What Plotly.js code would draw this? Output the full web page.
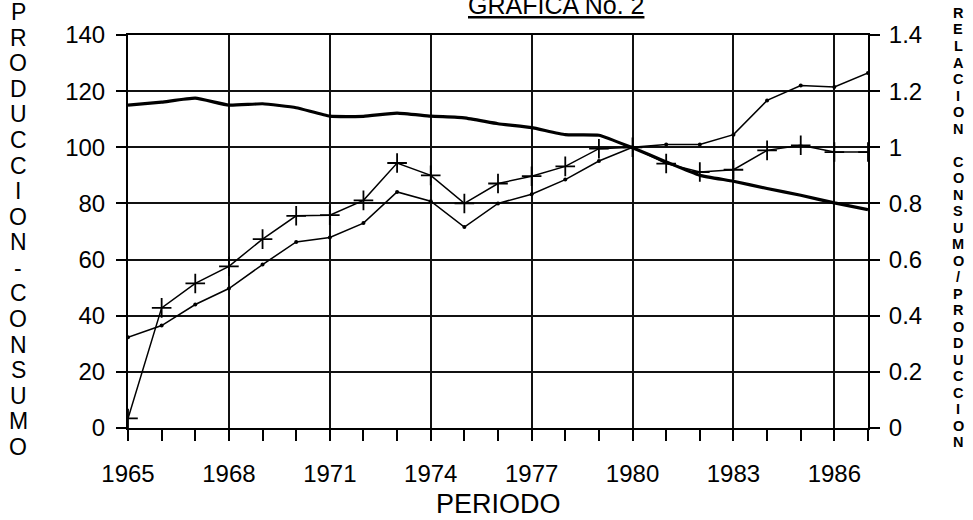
<!DOCTYPE html>
<html>
<head>
<meta charset="utf-8">
<script src="https://cdn.plot.ly/plotly-3.0.1.min.js"></script>
<style>html,body{margin:0;padding:0;background:#fff;}#chart{width:973px;height:520px;}</style>
</head>
<body>
<div id="chart"></div>
<script>
const years = [1965,1966,1967,1968,1969,1970,1971,1972,1973,1974,1975,1976,1977,1978,1979,1980,1981,1982,1983,1984,1985,1986,1987];
const produccion = [32.3,36.5,44,49.7,58.2,66.3,67.9,73,84.1,80.8,71.6,80,83.3,88.5,95.1,100,101,101,104.5,116.7,122,121.5,126.5];
const consumo = [3.4,42.8,51.5,57.6,67.3,75.6,75.8,81.1,94.4,90,80,87.1,89.7,93.2,99.5,100,94.2,91.2,92,98.9,100.7,98.3,98.3];
const relacion = [1.15,1.161,1.175,1.15,1.155,1.141,1.111,1.11,1.122,1.111,1.105,1.084,1.07,1.045,1.043,0.998,0.948,0.90,0.879,0.853,0.829,0.802,0.778];
const xTickVals = [1965,1968,1971,1974,1977,1980,1983,1986];
const xTickText = ['1965','1968','1971','1974','1977','1980','1983','1986'];
const leftTitle = 'PRODUCCION-CONSUMO';
const rightTitle = 'RELACION CONSUMO/PRODUCCION';
const xTitle = 'PERIODO';
const chartTitle = 'GRAFICA No. 2';

const font = 'Liberation Sans, Arial, sans-serif';
const W = 973, H = 520;
const pxX = px => (px - 128) / (W - 128 - 105);
const pxY = py => 1 - (py - 35) / (H - 35 - 92);

// stacked-letter axis titles, one annotation per character (pixel-based placement)
function stackedLetters(str, xPx, yFirstPx, yLastPx, size, weight) {
  const chars = str.split('');
  const step = (yLastPx - yFirstPx) / (chars.length - 1);
  const out = [];
  chars.forEach((c, i) => {
    if (c === ' ') return;
    out.push({
      text: c, xref: 'paper', yref: 'paper',
      x: pxX(xPx), y: pxY(yFirstPx + i * step),
      xanchor: 'center', yanchor: 'middle', showarrow: false, borderpad: 0,
      font: {size: size, family: font, weight: weight || 'normal'}
    });
  });
  return out;
}

const traces = [
  {x: years, y: produccion, type: 'scatter', mode: 'lines+markers',
   line: {color: '#000', width: 1.5}, marker: {symbol: 'circle', size: 4, color: '#000'}, yaxis: 'y'},
  {x: years, y: consumo, type: 'scatter', mode: 'lines+markers',
   line: {color: '#000', width: 1.5}, marker: {symbol: 'cross-thin', size: 14, color: '#000', line: {color: '#000', width: 1.8}}, yaxis: 'y'},
  {x: years, y: relacion, type: 'scatter', mode: 'lines',
   line: {color: '#000', width: 3.2, shape: 'spline', smoothing: 0.4}, yaxis: 'y2'}
];

const annotations = [
  {text: '<u>' + chartTitle + '</u>', xref: 'paper', yref: 'paper', x: pxX(556), y: 1.036,
   xanchor: 'center', yanchor: 'bottom', showarrow: false, font: {size: 25, family: font}},
  {text: xTitle, xref: 'paper', yref: 'paper', x: 0.5, y: pxY(504), borderpad: 0,
   xanchor: 'center', yanchor: 'middle', showarrow: false, font: {size: 27, family: font}}
].concat(stackedLetters(leftTitle, 18, 12, 447, 23))
 .concat(stackedLetters(rightTitle, 958, 13, 442, 14.5, 'bold'));

const layout = {
  width: W, height: H,
  margin: {l: 128, r: 105, t: 35, b: 92},
  paper_bgcolor: '#fff', plot_bgcolor: '#fff',
  showlegend: false,
  font: {family: font, color: '#000', size: 24},
  xaxis: {
    range: [1965, 1987], tickmode: 'array', tickvals: xTickVals, ticktext: xTickText,
    showgrid: true, gridcolor: '#111', gridwidth: 2,
    showline: true, linecolor: '#000', linewidth: 2, mirror: true,
    ticks: 'outside', ticklen: 11, tickwidth: 2, tickcolor: '#000',
    minor: {dtick: 1, tick0: 1965, ticks: 'outside', ticklen: 11, tickwidth: 2, tickcolor: '#000', showgrid: false},
    tickfont: {size: 24, family: font}, ticklabelstandoff: 12,
    zeroline: false
  },
  yaxis: {
    range: [0, 140], tickvals: [0,20,40,60,80,100,120,140],
    showgrid: true, gridcolor: '#111', gridwidth: 2,
    showline: true, linecolor: '#000', linewidth: 2,
    ticks: 'outside', ticklen: 10, tickwidth: 2, tickcolor: '#000',
    tickfont: {size: 24, family: font}, ticklabelstandoff: 6, zeroline: false
  },
  yaxis2: {
    range: [0, 1.4], tickvals: [0,0.2,0.4,0.6,0.8,1,1.2,1.4], ticktext: ['0','0.2','0.4','0.6','0.8','1','1.2','1.4'],
    overlaying: 'y', side: 'right',
    showgrid: false, showline: true, linecolor: '#000', linewidth: 2,
    ticks: 'outside', ticklen: 10, tickwidth: 2, tickcolor: '#000',
    tickfont: {size: 24, family: font}, ticklabelstandoff: 4, zeroline: false
  },
  annotations: annotations
};

Plotly.newPlot('chart', traces, layout, {displayModeBar: false, staticPlot: true});
</script>
</body>
</html>
